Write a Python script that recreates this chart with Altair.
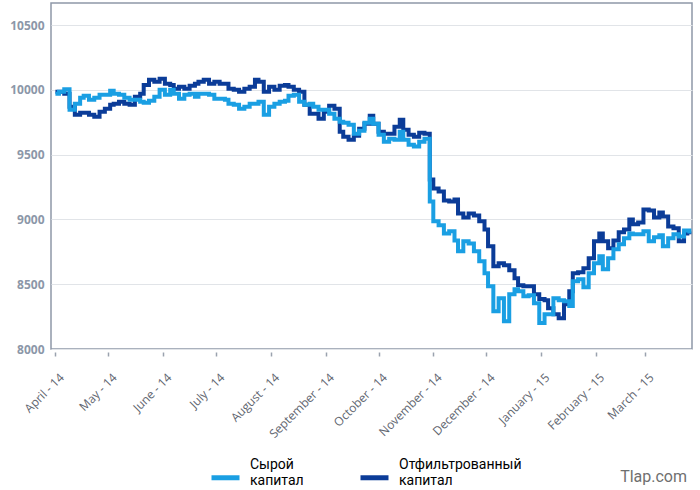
import altair as alt
import pandas as pd

# Sampling dates of both equity curves (evenly spaced through the test year)
START_DATE = "2014-04-01"
END_DATE = "2015-03-26"
N_POINTS = 128

# Raw equity ("Сырой капитал")
raw_capital = [
    9969, 9985, 10005, 9846, 9892, 9938, 9954, 9923, 9938, 9962,
    9962, 9992, 9969, 9962, 9938, 9923, 9923, 9908, 9900, 9915,
    9946, 10000, 9962, 10000, 9969, 9931, 9962, 9969, 9946, 9969,
    9969, 9962, 9931, 9931, 9923, 9892, 9885, 9854, 9869, 9892,
    9892, 9908, 9808, 9869, 9892, 9908, 9915, 9954, 9962, 9908,
    9885, 9892, 9869, 9846, 9846, 9815, 9777, 9754, 9746, 9731,
    9662, 9685, 9746, 9777, 9738, 9654, 9600, 9623, 9615, 9677,
    9615, 9577, 9562, 9600, 9623, 9139, 8985, 8954, 8892, 8908,
    8838, 8754, 8831, 8815, 8754, 8677, 8585, 8485, 8292, 8392,
    8215, 8423, 8462, 8446, 8408, 8415, 8354, 8200, 8269, 8269,
    8392, 8377, 8369, 8331, 8523, 8538, 8477, 8585, 8662, 8715,
    8615, 8700, 8769, 8808, 8854, 8892, 8885, 8885, 8908, 8831,
    8862, 8877, 8792, 8854, 8885, 8869, 8915, 8892,
]

# Filtered equity ("Отфильтрованный капитал")
filtered_capital = [
    9985, 9985, 9969, 9869, 9808, 9823, 9823, 9808, 9792, 9831,
    9854, 9885, 9892, 9908, 9892, 9885, 9946, 9969, 10038, 10077,
    10062, 10085, 10046, 10038, 10008, 10023, 10008, 10031, 10046, 10062,
    10077, 10046, 10062, 10046, 10046, 10008, 10000, 9985, 10008, 10023,
    10077, 10062, 9985, 10023, 10000, 10031, 10038, 10023, 10000, 9985,
    9885, 9815, 9815, 9777, 9831, 9877, 9854, 9677, 9638, 9615,
    9646, 9700, 9738, 9800, 9738, 9677, 9662, 9662, 9715, 9769,
    9692, 9654, 9638, 9669, 9662, 9308, 9239, 9216, 9146, 9139,
    9154, 9046, 9015, 9046, 9031, 8985, 8923, 8792, 8638, 8662,
    8646, 8608, 8546, 8492, 8485, 8485, 8423, 8385, 8377, 8315,
    8269, 8238, 8346, 8446, 8585, 8592, 8623, 8700, 8831, 8892,
    8831, 8777, 8838, 8900, 8923, 9000, 8962, 8977, 9077, 9069,
    9015, 9054, 9023, 8946, 8931, 8831, 8892, 8885,
]

SERIES_NAMES = ["Сырой капитал", "Отфильтрованный капитал"]
SERIES_COLORS = ["#1a9fe3", "#0b3c98"]
Y_TICKS = [8000, 8500, 9000, 9500, 10000, 10500]

dates = pd.date_range(START_DATE, END_DATE, periods=N_POINTS).floor("D")
raw_df = pd.DataFrame({"date": dates, "value": raw_capital, "series": SERIES_NAMES[0]})
flt_df = pd.DataFrame({"date": dates, "value": filtered_capital, "series": SERIES_NAMES[1]})

x_enc = alt.X(
    "date:T",
    scale=alt.Scale(domain=["2014-03-29T12:00:00", "2015-03-27T12:00:00"]),
    axis=alt.Axis(
        title=None,
        format="%B - %y",
        tickCount={"interval": "month", "step": 1},
        labelAngle=-45,
        labelAlign="right",
        labelBaseline="middle",
        labelFont="Open Sans",
        labelFontSize=12,
        labelColor="#5f6670",
        labelPadding=19,
        labelOffset=6,
        labelOverlap=False,
        labelFlush=False,
        domain=False,
        grid=False,
        ticks=True,
        tickSize=4,
        tickColor="#9aa2ae",
        tickWidth=1.5,
        offset=3,
    ),
)
y_enc = alt.Y(
    "value:Q",
    scale=alt.Scale(domain=[8000, 10670], nice=False, zero=False),
    axis=alt.Axis(
        title=None,
        values=Y_TICKS,
        format="d",
        labelFont="Open Sans",
        labelFontSize=12,
        labelFontWeight="bold",
        labelColor="#8c97a8",
        labelPadding=7,
        ticks=False,
        domain=False,
        grid=True,
        gridColor="#e1e4e8",
        gridWidth=1,
    ),
)
# Legend swatch: a short thick bar drawn below the first label line
SWATCH_PATH = "M-1,0.93L1,0.93"
color_enc = alt.Color(
    "series:N",
    scale=alt.Scale(domain=SERIES_NAMES, range=SERIES_COLORS),
    legend=alt.Legend(
        title=None,
        orient="none",
        direction="horizontal",
        legendX=158,
        legendY=445,
        symbolType=SWATCH_PATH,
        symbolSize=784,
        symbolStrokeWidth=5,
        labelExpr="split(datum.label, ' ')",
        labelFont="Roboto",
        labelFontSize=14,
        labelColor="#000000",
        labelOffset=8,
        labelLimit=200,
        columnPadding=46,
        padding=0,
    ),
)

filtered_line = alt.Chart(flt_df).mark_line(
    interpolate="step-after", strokeWidth=4, strokeJoin="miter"
).encode(x=x_enc, y=y_enc, color=color_enc)

raw_line = alt.Chart(raw_df).mark_line(
    interpolate="step-after", strokeWidth=4, strokeJoin="miter"
).encode(x=x_enc, y=y_enc, color=color_enc)

watermark = alt.Chart(pd.DataFrame({"t": ["Tlap.com"]})).mark_text(
    font="Roboto", fontSize=16, color="#6f6f6f", align="right", baseline="middle"
).encode(text="t:N", x=alt.value(636), y=alt.value(474))

chart = (
    alt.layer(filtered_line, raw_line, watermark)
    .properties(
        width=641,
        height=346,
        autosize=alt.AutoSizeParams(type="none"),
        padding={"left": 51, "top": 3, "right": 8, "bottom": 141},
        background="#ffffff",
    )
    .configure_view(stroke="#8e98a8", strokeWidth=1.5)
)

chart.save("out.html", embed_options={"renderer": "svg", "actions": False})
